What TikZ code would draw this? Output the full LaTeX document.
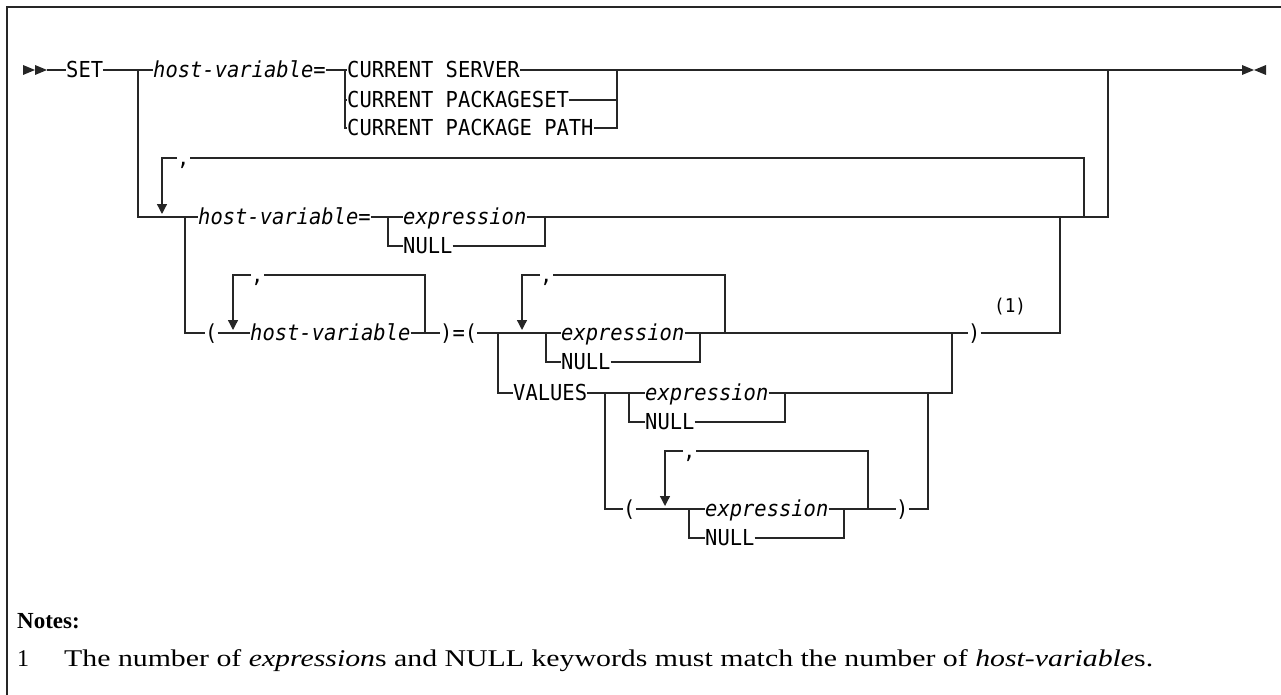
\documentclass[tikz,border=0pt]{standalone}
\usepackage{fontspec}
\setmainfont{Liberation Serif}
\setmonofont[FakeStretch=0.93]{DejaVu Sans Mono}
\usetikzlibrary{arrows.meta}
\begin{document}
\begin{tikzpicture}[x=1pt,y=-1pt,
  rr/.style={line width=1.3pt, draw=black!85},
  dn/.style={rr, -{Triangle[width=10pt,length=10pt]}},
  kw/.style={font=\ttfamily\fontsize{22}{26}\selectfont, inner sep=0pt, text height=15.5pt, text depth=0pt, anchor=west},
  var/.style={kw, font=\ttfamily\itshape\fontsize{22}{26}\selectfont},
  tip/.style={fill=black!85, draw=none},
  note/.style={inner sep=0pt, anchor=base west, font=\fontsize{24}{28}\selectfont}
]
\useasboundingbox (0,0) rectangle (1281,695);
% frame
\draw[line width=1.5pt, black!85] (1281,7) -- (7,7) -- (7,695);

% ---------- row 0 ----------
\coordinate (s0) at (47,70);
\node[kw] (set) at (66,70) {SET};
\coordinate (a0) at (138,70);
\node[var] (hv1) at (153,70) {host-variable=};
\coordinate (b0) at (345,70);
\coordinate (b1) at (345,100);
\coordinate (b2) at (345,128);
\node[kw] (cs) at (347,70) {CURRENT SERVER};
\node[kw] (cps) at (347,100) {CURRENT PACKAGESET};
\node[kw] (cpp) at (347,128) {CURRENT PACKAGE PATH};
\coordinate (c0) at (617,70);
\coordinate (c1) at (617,100);
\coordinate (c2) at (617,128);
\coordinate (d0) at (1108,70);
\coordinate (e0) at (1242,70);

\fill[tip] (23,65) -- (35,70) -- (23,75) -- cycle;
\fill[tip] (35,65) -- (47,70) -- (35,75) -- cycle;
\fill[tip] (1242,65) -- (1254,70) -- (1242,75) -- cycle;
\fill[tip] (1266,65) -- (1254,70) -- (1266,75) -- cycle;

\draw[rr] (s0) -- (set.west);
\draw[rr] (set.east) -- (a0) -- (hv1.west);
\draw[rr] (hv1.east) -- (b0) -- (cs.west);
\draw[rr] (b0) -- (b2) -- (cpp.west);
\draw[rr] (b1) -- (cps.west);
\draw[rr] (cs.east) -- (c0) -- (d0) -- (e0);
\draw[rr] (cps.east) -- (c1);
\draw[rr] (cpp.east) -- (c2) -- (c0);

% ---------- row 1 ----------
\coordinate (a1) at (138,217);
\coordinate (e1) at (185,217);
\node[var] (hv2) at (198,217) {host-variable=};
\coordinate (f0) at (388,217);
\coordinate (f1) at (388,246);
\node[var] (ex1) at (403,217) {expression};
\node[kw] (nu1) at (403,246) {NULL};
\coordinate (g0) at (545,217);
\coordinate (g1) at (545,246);
\coordinate (h1) at (1060,217);
\coordinate (k1) at (1084,217);
\coordinate (d1) at (1108,217);
\coordinate (k0) at (1084,158);
\node[kw] (cm1) at (177,158) {,};
\coordinate (r0) at (162,158);
\coordinate (r1) at (162,214);

\draw[rr] (a0) -- (a1) -- (e1) -- (hv2.west);
\draw[rr] (hv2.east) -- (f0) -- (ex1.west);
\draw[rr] (f0) -- (f1) -- (nu1.west);
\draw[rr] (ex1.east) -- (g0) -- (h1) -- (k1) -- (d1) -- (d0);
\draw[rr] (nu1.east) -- (g1) -- (g0);
\draw[rr] (k1) -- (k0) -- (cm1.east);
\draw[dn] (cm1.west) -- (r0) -- (r1);

% ---------- row 2 ----------
\coordinate (e2) at (185,333);
\node[kw] (lp1) at (205,333) {(};
\coordinate (t0) at (233,275);
\coordinate (t1) at (233,330);
\node[kw] (cm2) at (251,275) {,};
\node[var] (hv3) at (250,333) {host-variable};
\coordinate (j1) at (425,333);
\coordinate (j0) at (425,275);
\node[kw] (rpe) at (440,333) {)=(};
\coordinate (l0) at (498,333);
\coordinate (l1) at (498,393);
\coordinate (u0) at (522,275);
\coordinate (u1) at (522,330);
\node[kw] (cm3) at (540,275) {,};
\coordinate (m0) at (546,333);
\coordinate (m1) at (546,362);
\node[var] (ex2) at (561,333) {expression};
\node[kw] (nu2) at (561,362) {NULL};
\coordinate (n0) at (700,333);
\coordinate (n1) at (700,362);
\coordinate (w1) at (725,333);
\coordinate (w0) at (725,275);
\coordinate (o0) at (952,333);
\coordinate (o1) at (952,393);
\node[kw] (rp1) at (968,333) {)};
\coordinate (h2) at (1060,333);
\node[inner sep=0pt, anchor=base west, font=\ttfamily\fontsize{19}{22}\selectfont] (fn) at (994,312) {(1)};

\draw[rr] (e1) -- (e2) -- (lp1.west);
\draw[rr] (lp1.east) -- (hv3.west);
\draw[rr] (hv3.east) -- (j1) -- (rpe.west);
\draw[rr] (j1) -- (j0) -- (cm2.east);
\draw[dn] (cm2.west) -- (t0) -- (t1);
\draw[rr] (rpe.east) -- (l0) -- (m0) -- (ex2.west);
\draw[rr] (m0) -- (m1) -- (nu2.west);
\draw[rr] (ex2.east) -- (n0) -- (w1) -- (o0) -- (rp1.west);
\draw[rr] (nu2.east) -- (n1) -- (n0);
\draw[rr] (w1) -- (w0) -- (cm3.east);
\draw[dn] (cm3.west) -- (u0) -- (u1);
\draw[rr] (rp1.east) -- (h2) -- (h1);

% ---------- row 3 ----------
\node[kw] (values) at (513,393) {VALUES};
\coordinate (p0) at (605,393);
\coordinate (p1) at (605,509);
\coordinate (q0) at (629,393);
\coordinate (q1) at (629,422);
\node[var] (ex3) at (645,393) {expression};
\node[kw] (nu3) at (645,422) {NULL};
\coordinate (x0) at (785,393);
\coordinate (x1) at (785,422);
\coordinate (s3) at (928,393);

\draw[rr] (l0) -- (l1) -- (values.west);
\draw[rr] (values.east) -- (p0) -- (q0) -- (ex3.west);
\draw[rr] (q0) -- (q1) -- (nu3.west);
\draw[rr] (ex3.east) -- (x0) -- (s3) -- (o1) -- (o0);
\draw[rr] (nu3.east) -- (x1) -- (x0);

% ---------- row 4 ----------
\node[kw] (lp2) at (623,509) {(};
\coordinate (y0) at (689,509);
\coordinate (y1) at (689,538);
\coordinate (i0) at (665,451);
\coordinate (i1) at (665,506);
\node[kw] (cm4) at (683,451) {,};
\node[var] (ex4) at (705,509) {expression};
\node[kw] (nu4) at (705,538) {NULL};
\coordinate (z0) at (844,509);
\coordinate (z1) at (844,538);
\coordinate (v0) at (868,509);
\coordinate (v1) at (868,451);
\node[kw] (rp2) at (896,509) {)};
\coordinate (s4) at (928,509);

\draw[rr] (p0) -- (p1) -- (lp2.west);
\draw[rr] (lp2.east) -- (y0) -- (ex4.west);
\draw[rr] (y0) -- (y1) -- (nu4.west);
\draw[rr] (ex4.east) -- (z0) -- (v0) -- (rp2.west);
\draw[rr] (nu4.east) -- (z1) -- (z0);
\draw[rr] (v0) -- (v1) -- (cm4.east);
\draw[dn] (cm4.west) -- (i0) -- (i1);
\draw[rr] (rp2.east) -- (s4) -- (s3);

% ---------- notes ----------
\node[note, font=\bfseries\fontsize{23}{27}\selectfont] (notes) at (17,628) {Notes:};
\node[note] (n1) at (17,666) {1};
\node[note] (ntext) at (64,666) {\resizebox{1089pt}{\height}{The number of \textit{expression}s and NULL keywords must match the number of \textit{host-variable}s.}};
\end{tikzpicture}
\end{document}
